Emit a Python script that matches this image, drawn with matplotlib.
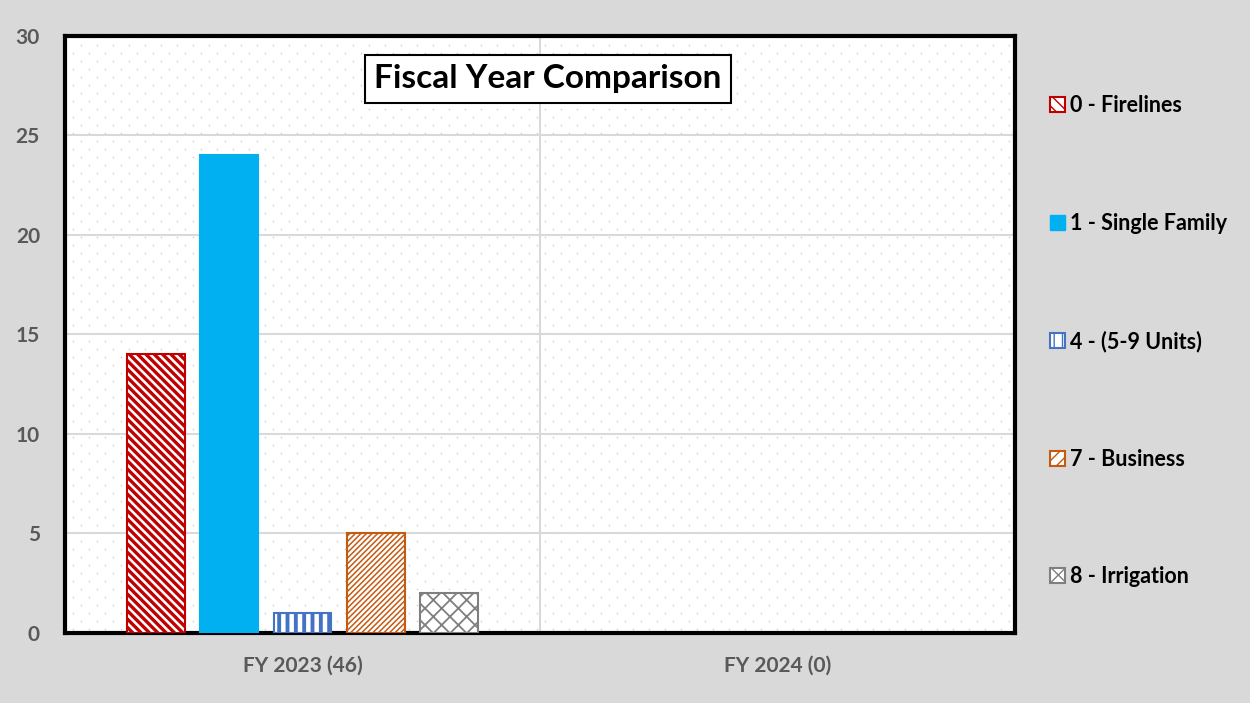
import matplotlib
matplotlib.use("Agg")
import matplotlib.pyplot as plt
import numpy as np
from matplotlib.patches import Patch

categories = ["FY 2023 (46)", "FY 2024 (0)"]
series = ["0 - Firelines", "1 - Single Family", "4 - (5-9 Units)", "7 - Business", "8 - Irrigation"]
values = [
    [14, 0],   # 0 - Firelines
    [24, 0],   # 1 - Single Family
    [1, 0],    # 4 - (5-9 Units)
    [5, 0],    # 7 - Business
    [2, 0],    # 8 - Irrigation
]
colors = ["#C00000", "#00B0F0", "#4472C4", "#C55A11", "#7F7F7F"]
hatches = ["\\\\\\\\", None, "||", "//////", "xx"]
hatch_lw = [2.4, 1.0, 2.8, 1.1, 1.3]
yticks = [0, 5, 10, 15, 20, 25, 30]

plt.rcParams["font.family"] = ["Lato", "DejaVu Sans"]

BG = "#D9D9D9"
fig = plt.figure(figsize=(12.5, 7.03), dpi=100, facecolor=BG)
ax = fig.add_axes([0.052, 0.0996, 0.76, 0.8492])
ax.set_facecolor("white")

# dotted background pattern (staggered grid of light dots)
dx, dy = 16 / 950, 8 / 597
pts = []
for r, yy in enumerate(np.arange(dy / 2, 1, dy)):
    off = 0 if r % 2 == 0 else dx / 2
    for xx in np.arange(dx / 2 + off, 1, dx):
        pts.append((xx, yy))
pts = np.array(pts)
ax.scatter(pts[:, 0], pts[:, 1], s=1.2, color="#C8C8C8", transform=ax.transAxes,
           zorder=0, linewidths=0)

x = np.arange(len(categories))
width = 0.122
step = 0.154
for i, (name, vals) in enumerate(zip(series, values)):
    pos = x + (i - 2) * step
    lws = [1.5 if v > 0 else 0 for v in vals]
    with plt.rc_context({"hatch.linewidth": hatch_lw[i]}):
        if hatches[i] is None:
            ax.bar(pos, vals, width, color=colors[i], edgecolor=colors[i], linewidth=lws,
                   label=name, zorder=3)
        else:
            ax.bar(pos, vals, width, facecolor="white", edgecolor=colors[i], hatch=hatches[i],
                   linewidth=lws, label=name, zorder=3)

ax.set_xlim(-0.5, 1.5)
ax.set_ylim(0, 30)
ax.set_yticks(yticks)
ax.set_xticks(x)
ax.set_xticklabels(categories, fontsize=15, fontweight="bold", color="#595959")
ax.set_yticklabels([str(t) for t in yticks], fontsize=15, fontweight="bold", color="#595959")
ax.tick_params(length=0)
ax.tick_params(axis="y", pad=18)
ax.tick_params(axis="x", pad=16)

ax.grid(axis="y", color="#D9D9D9", linewidth=1.5, zorder=1)
ax.axvline(0.5, color="#D9D9D9", linewidth=1.5, zorder=1)
for s in ax.spines.values():
    s.set_linewidth(3)
    s.set_color("black")

ax.text(0.508, 0.928, "Fiscal Year Comparison", transform=ax.transAxes, ha="center",
        va="center", fontsize=24, fontweight="bold", color="black", zorder=5,
        bbox=dict(boxstyle="square,pad=0.28", facecolor="white", edgecolor="black", linewidth=1.5))

handles = []
for i, name in enumerate(series):
    if hatches[i] is None:
        handles.append(Patch(facecolor=colors[i], edgecolor=colors[i], label=name))
    else:
        with plt.rc_context({"hatch.linewidth": hatch_lw[i]}):
            handles.append(Patch(facecolor="white", edgecolor=colors[i], hatch=hatches[i][:3],
                                 linewidth=1.5, label=name))
leg = fig.legend(handles=handles, loc="upper left", bbox_to_anchor=(0.833, 0.877),
                 frameon=False, prop={"weight": "bold", "size": 15.5},
                 handlelength=0.68, handleheight=0.68, handletextpad=0.25,
                 labelspacing=4.49, borderaxespad=0)

fig.savefig("out.png", dpi=100, facecolor=BG)
